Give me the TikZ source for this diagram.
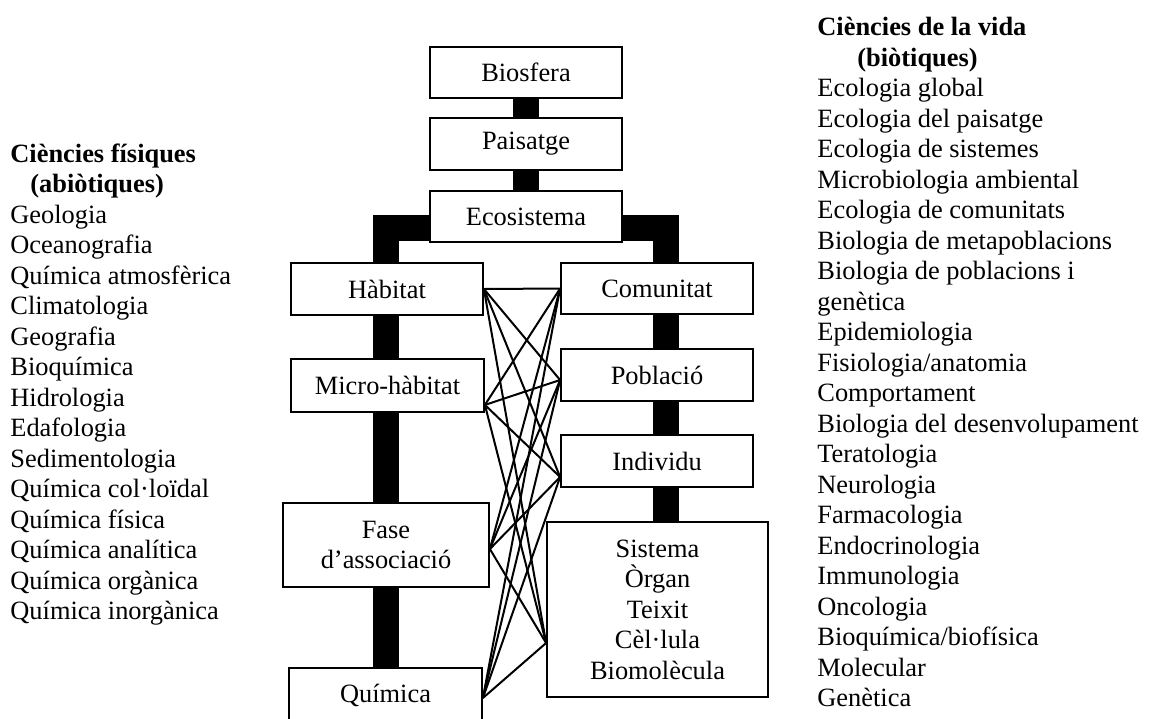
\documentclass[tikz,border=0pt]{standalone}
\usepackage{fontspec}
\setmainfont{Liberation Serif}
\usetikzlibrary{calc,backgrounds}
\begin{document}
\begin{tikzpicture}[x=0.5pt,y=-0.5pt,
  box/.style={draw, line width=0.9pt, fill=white, inner sep=0pt,
    font=\fontsize{13.2}{15.25}\selectfont, align=center},
  bar/.style={line width=13pt},
  link/.style={line width=1pt},
  lst/.style={anchor=base west, inner sep=0pt, font=\fontsize{13.2}{15.25}\selectfont},
  hdr/.style={lst, font=\fontsize{13.2}{15.25}\selectfont\bfseries}]
\useasboundingbox (0,0) rectangle (1149,718);
\clip (0,0) rectangle (1149,718);

% boxes
\node[box, minimum width=96pt, minimum height=25.5pt] (bio) at (526,72.5) {Biosfera};
\node[box, minimum width=96pt, minimum height=26pt] (pai) at (526,144) {Paisatge};
\node[box, minimum width=96pt, minimum height=25.5pt] (eco) at (526,216.5) {Ecosistema};
\node[box, minimum width=96pt, minimum height=26pt] (hab) at (387,289) {Hàbitat};
\node[box, minimum width=96.5pt, minimum height=26.5pt] (mic) at (387.5,385.5) {Micro-hàbitat};
\node[box, minimum width=103pt, minimum height=42pt] (fas) at (386,545) {Fase\\d’associació};
\node[box, minimum width=96.5pt, minimum height=27pt] (qui) at (385.5,695) {Química};
\node[box, minimum width=96pt, minimum height=25.5pt] (com) at (657,288.5) {Comunitat};
\node[box, minimum width=96pt, minimum height=26pt] (pob) at (657,375) {Població};
\node[box, minimum width=96pt, minimum height=26pt] (ind) at (657,461) {Individu};
\node[box, minimum width=110.5pt, minimum height=87.5pt] (big) at (657.5,609.5)
  {Sistema\\Òrgan\\Teixit\\Cèl·lula\\Biomolècula};

% thick bars
\begin{scope}[on background layer]
  \draw[bar] (bio.center) -- (pai.center);
  \draw[bar] (pai.center) -- (eco.center);
  \draw[bar] ($(eco.center)+(0,11)$) -| (qui.center);
  \draw[bar] ($(eco.center)+(0,11)$) -| ($(big.center)+(8,0)$);
\end{scope}

% thin links
\coordinate (L1) at (hab.east);
\coordinate (L2) at ($(mic.south east)+(0,-8)$);
\coordinate (L3) at ($(fas.east)+(0,4)$);
\coordinate (L4) at ($(qui.east)+(0,3)$);
\coordinate (R1) at (com.west);
\coordinate (R2) at ($(pob.west)+(0,5)$);
\coordinate (R3) at ($(ind.west)+(0,16)$);
\coordinate (R4) at ($(big.west)+(0,33.5)$);
\foreach \a in {L1,L2,L3,L4}
  \foreach \b in {R1,R2,R3,R4}
    \draw[link] (\a) -- (\b);

% left list
\node[hdr] (lh1) at (10,162) {Ciències físiques};
\node[hdr] (lh2) at (30,192.5) {(abiòtiques)};
\foreach \t [count=\i from 0] in {Geologia,Oceanografia,Química atmosfèrica,Climatologia,
  Geografia,Bioquímica,Hidrologia,Edafologia,Sedimentologia,Química col·loïdal,
  Química física,Química analítica,Química orgànica,Química inorgànica}
  \node[lst] (ll\i) at (10,{223+30.5*\i}) {\t};

% right list
\node[hdr] (rh1) at (817,35.5) {Ciències de la vida};
\node[hdr] (rh2) at (857,66) {(biòtiques)};
\foreach \t [count=\i from 0] in {Ecologia global,Ecologia del paisatge,Ecologia de sistemes,
  Microbiologia ambiental,Ecologia de comunitats,Biologia de metapoblacions,
  Biologia de poblacions i,genètica,Epidemiologia,Fisiologia/anatomia,Comportament,
  Biologia del desenvolupament,Teratologia,Neurologia,Farmacologia,Endocrinologia,
  Immunologia,Oncologia,Bioquímica/biofísica,Molecular,Genètica}
  \node[lst] (rl\i) at (817,{96.5+30.5*\i}) {\t};
\end{tikzpicture}
\end{document}
